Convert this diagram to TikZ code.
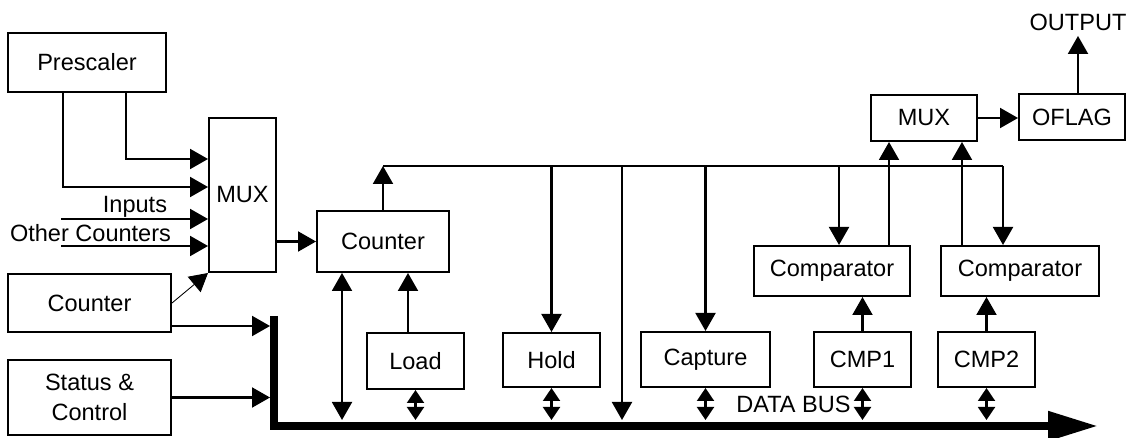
\documentclass[tikz,border=0pt]{standalone}
\usepackage{fontspec}
\setmainfont{Liberation Sans}
\usetikzlibrary{arrows.meta}

\begin{document}
\begin{tikzpicture}[
x=0.02cm, y=-0.02cm,
box/.style={draw, line width=1.15pt, inner sep=0pt, align=center, font=\fontsize{13.4}{17}\selectfont},
lbl/.style={inner sep=0pt, font=\fontsize{13.4}{17}\selectfont},
wire/.style={line width=1.15pt},
arrow/.style={-{Triangle[length=3.6mm, width=4mm]}, line width=1.15pt},
thinarrow/.style={-{Triangle[length=3.6mm, width=4mm]}, line width=0.5pt},
biarrow/.style={{Triangle[length=3.6mm, width=4mm]}-{Triangle[length=3.6mm, width=4mm]}, line width=1.15pt},
tap/.style={{Triangle[length=2.6mm, width=3.4mm]}-{Triangle[length=2.6mm, width=3.4mm]}, line width=1.15pt},
bus/.style={-{Triangle[length=10mm, width=5.6mm]}, line width=4.5pt, line join=miter}
]
\useasboundingbox (0,0) rectangle (1130,438);
\node[box, minimum width=3.16cm, minimum height=1.18cm] (presc) at (87,62.5) {Prescaler};
\node[box, minimum width=1.34cm, minimum height=3.08cm] (mux) at (242.5,195) {MUX};
\node[box, minimum width=3.26cm, minimum height=1.16cm] (cntsrc) at (89.5,303) {Counter};
\node[box, minimum width=3.26cm, minimum height=1.5cm] (status) at (89.5,397.5) {Status \&\\Control};
\node[box, minimum width=2.64cm, minimum height=1.22cm] (counter) at (383,241.5) {Counter};
\node[box, minimum width=1.94cm, minimum height=1.12cm] (load) at (415.5,361) {Load};
\node[box, minimum width=1.94cm, minimum height=1.08cm] (hold) at (551.5,360) {Hold};
\node[box, minimum width=2.58cm, minimum height=1.1cm] (capture) at (705.5,359.5) {Capture};
\node[box, minimum width=3.12cm, minimum height=1cm] (comp1) at (832,271) {Comparator};
\node[box, minimum width=3.16cm, minimum height=1cm] (comp2) at (1020,271) {Comparator};
\node[box, minimum width=1.94cm, minimum height=1.1cm] (cmp1) at (862.5,359.5) {CMP1};
\node[box, minimum width=1.94cm, minimum height=1.1cm] (cmp2) at (986.5,359.5) {CMP2};
\node[box, minimum width=2.12cm, minimum height=0.92cm] (mux2) at (924,118) {MUX};
\node[box, minimum width=2.12cm, minimum height=0.92cm] (oflag) at (1072,117) {OFLAG};
\node[lbl, inner sep=3pt] (outlbl) at (1078,22) {OUTPUT};
\node[lbl, anchor=base] (inplbl) at (135,213) {Inputs};
\node[lbl, anchor=base] (othlbl) at (90.5,242) {Other Counters};
\node[lbl, anchor=base] (buslbl) at (793.5,413) {DATA BUS};

\coordinate (inp) at (61,219);
\coordinate (oth) at (61,246);
\coordinate (busL) at (270,0);
\coordinate (busT) at (0,420);
\coordinate (topL) at (0,166);
\coordinate (tapR) at (1003,166);
\coordinate (tapbus) at (622,166);
\coordinate (c1in) at (839,166);
\coordinate (busstart) at (274,316);
\coordinate (buscorner) at (274,426);
\coordinate (busend) at (1098,426);
\coordinate (c2b) at ([yshift=-0.46cm]cntsrc.east);
\coordinate (cntbus) at ([xshift=-0.82cm]counter.south);
\coordinate (ldup) at ([xshift=-0.15cm]load.north);
\coordinate (m2a) at ([xshift=-0.7cm]mux2.south);
\coordinate (m2b) at ([xshift=0.76cm]mux2.south);

\draw[bus] (busstart) -- (buscorner) -- (busend);
\draw[arrow] ([xshift=0.78cm]presc.south) |- ([yshift=0.72cm]mux.west);
\draw[arrow] ([xshift=-0.48cm]presc.south) |- ([yshift=0.16cm]mux.west);
\draw[arrow] (inp) -- (inp -| mux.west);
\draw[arrow] (oth) -- (oth -| mux.west);
\draw[thinarrow] (cntsrc.east) -- (mux.south west);
\draw[arrow] (mux.east |- counter.west) -- (counter.west);
\draw[arrow] (c2b) -- (c2b -| busL);
\draw[arrow] (status.east) -- (status.east -| busL);
\draw[wire] (counter.north |- topL) -- (tapR);
\draw[arrow] (counter.north) -- (counter.north |- topL);
\draw[biarrow] (cntbus) -- (cntbus |- busT);
\draw[arrow] (ldup) -- (ldup |- counter.south);
\draw[tap] (load.south) -- (load.south |- busT);
\draw[arrow] (hold.north |- topL) -- (hold.north);
\draw[tap] (hold.south) -- (hold.south |- busT);
\draw[arrow] (tapbus) -- (tapbus |- busT);
\draw[arrow] (capture.north |- topL) -- (capture.north);
\draw[tap] (capture.south) -- (capture.south |- busT);
\draw[arrow] (c1in) -- (c1in |- comp1.north);
\draw[arrow] (tapR) -- (tapR |- comp2.north);
\draw[arrow] (m2a |- comp1.north) -- (m2a);
\draw[arrow] (m2b |- comp2.north) -- (m2b);
\draw[arrow] (cmp1.north) -- (cmp1.north |- comp1.south);
\draw[arrow] (cmp2.north) -- (cmp2.north |- comp2.south);
\draw[tap] (cmp1.south) -- (cmp1.south |- busT);
\draw[tap] (cmp2.south) -- (cmp2.south |- busT);
\draw[arrow] (mux2.east) -- (mux2.east -| oflag.west);
\draw[arrow] (oflag.north -| outlbl) -- (outlbl.south);
\end{tikzpicture}
\end{document}
